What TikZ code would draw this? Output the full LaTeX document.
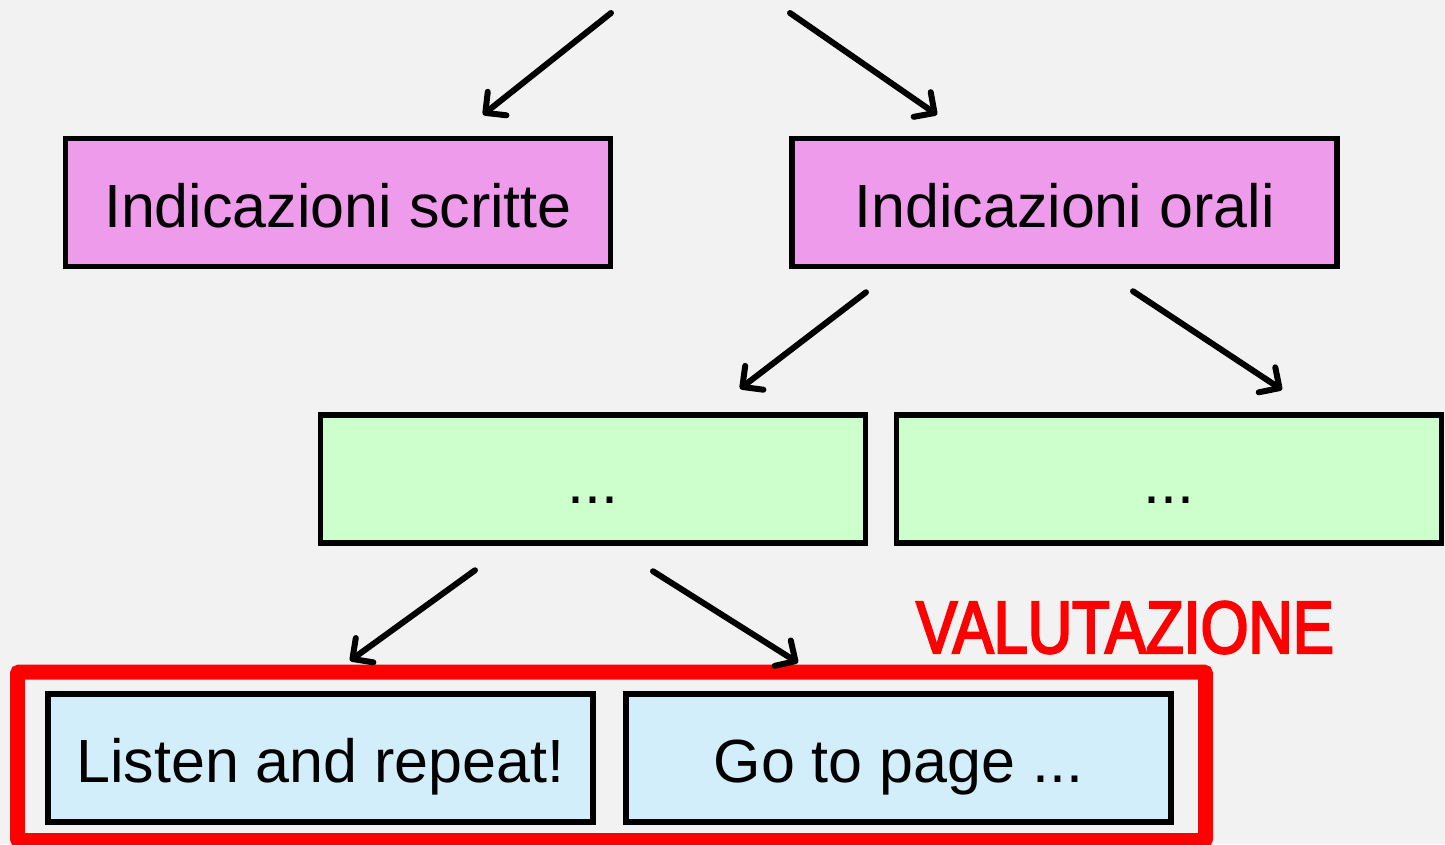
\documentclass[tikz,border=0pt]{standalone}
\usepackage{fontspec}
\setmainfont{Liberation Sans}
\newfontfamily\valfont[FakeStretch=0.83,FakeBold=3]{Liberation Sans}
\usetikzlibrary{arrows.meta}

\definecolor{sfondo}{RGB}{242,242,242}
\definecolor{rosa}{RGB}{237,155,234}
\definecolor{verdino}{RGB}{204,255,204}
\definecolor{azzurro}{RGB}{211,238,251}

\tikzset{
  box/.style={draw=black, line width=5.5pt, minimum width=545pt, minimum height=128pt,
    inner sep=0pt, text height=49pt, text depth=0pt, font=\fontsize{61}{70}\selectfont},
  freccia/.style={line width=6pt, line cap=round, -{Straight Barb[length=15pt,width=30pt,round]}}
}

\begin{document}
\begin{tikzpicture}[x=1pt,y=-1pt]

\fill [sfondo] (0,0) rectangle (1445,844);
\useasboundingbox (0,0) rectangle (1445,844);
\clip (0,0) rectangle (1445,844);

\node (scritte) [box, fill=rosa] at (338,202.5) {Indicazioni scritte};
\node (orali) [box, fill=rosa] at (1064.5,202.5) {Indicazioni orali};

\node (verde1) [box, fill=verdino] at (593,479) {...};
\node (verde2) [box, fill=verdino] at (1169,479) {...};

\node (listen) [box, fill=azzurro] at (320.5,758) {Listen and repeat!};
\node (page) [box, fill=azzurro] at (898.5,758) {Go to page ...};

% riquadro valutazione
\draw [red, line width=15pt, rounded corners=2pt] (17.5,672) rectangle (1205.5,840.5);
\node (valutazione) [font=\valfont\fontsize{74}{80}\selectfont, text=red, anchor=base] at (1125,653) {VALUTAZIONE};

\coordinate (su1) at (611,13);
\coordinate (su2) at (790,13);

\draw [freccia] (su1) -- ([xshift=145pt,yshift=21pt]scritte.north);
\draw [freccia] (su2) -- ([xshift=-127.5pt,yshift=21pt]orali.north);

\draw [freccia] ([xshift=-198.5pt,yshift=-23pt]orali.south) -- ([xshift=147pt,yshift=23.5pt]verde1.north);
\draw [freccia] ([xshift=68.5pt,yshift=-22pt]orali.south) -- ([xshift=113pt,yshift=22.5pt]verde2.north);

\draw [freccia] ([xshift=-118pt,yshift=-24.5pt]verde1.south) -- ([xshift=29.5pt,yshift=30.5pt]listen.north);
\draw [freccia] ([xshift=60pt,yshift=-25.5pt]verde1.south) -- ([xshift=-100.5pt,yshift=28.5pt]page.north);

\end{tikzpicture}
\end{document}
